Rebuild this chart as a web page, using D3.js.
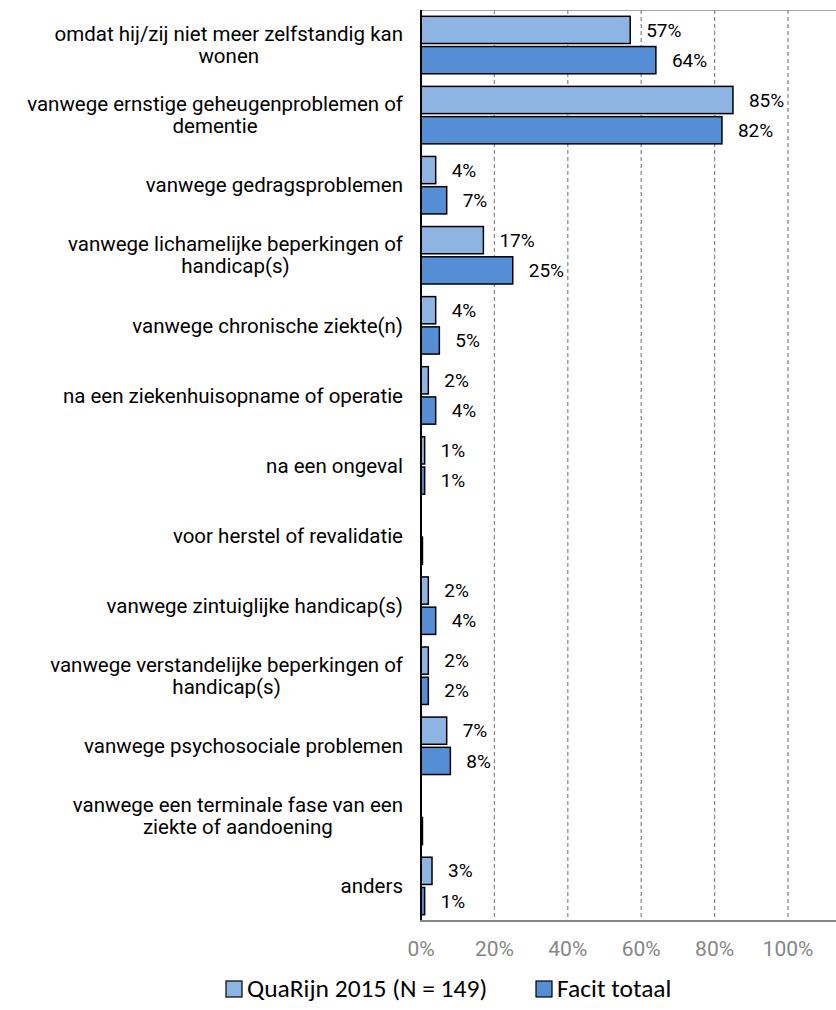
<!DOCTYPE html>
<html>
<head>
<meta charset="utf-8">
<script src="https://cdn.jsdelivr.net/npm/d3@7"></script>
<style>
  body { margin: 0; background: #fff; }
  svg { display: block; }
</style>
</head>
<body>
<div id="chart"></div>
<script>
// categories (\n = line break as in the original)
var categories = [
  'omdat hij/zij niet meer zelfstandig kan\nwonen',
  'vanwege ernstige geheugenproblemen of\ndementie',
  'vanwege gedragsproblemen',
  'vanwege lichamelijke beperkingen of\nhandicap(s)',
  'vanwege chronische ziekte(n)',
  'na een ziekenhuisopname of operatie',
  'na een ongeval',
  'voor herstel of revalidatie',
  'vanwege zintuiglijke handicap(s)',
  'vanwege verstandelijke beperkingen of\nhandicap(s)',
  'vanwege psychosociale problemen',
  'vanwege een terminale fase van een\nziekte of aandoening',
  'anders'
];
var quarijn = [57, 85, 4, 17, 4, 2, 1, 0, 2, 2, 7, 0, 3];
var facit = [64, 82, 7, 25, 5, 4, 1, 0.4, 4, 2, 8, 0.4, 1];
var seriesNames = ['QuaRijn 2015 (N = 149)', 'Facit totaal'];
var seriesColors = ['#8eb4e3', '#558ed5'];
var tickValues = [0, 20, 40, 60, 80, 100];

var canvasWidth = 836;
var canvasHeight = 1010;
var plotLeft = 421;
var plotTop = 10;
var plotBottom = 921;
var mainFont = 'Roboto, Arial, sans-serif';

var svg = d3.select('#chart')
  .append('svg')
  .attr('width', canvasWidth)
  .attr('height', canvasHeight);

var xScale = d3.scaleLinear().domain([0, 120]).range([plotLeft, plotLeft + 1.2 * 367]);
var yScale = d3.scaleBand().domain(d3.range(categories.length))
  .range([plotTop, plotBottom])
  .paddingInner(0.18)
  .paddingOuter(0.09);
var ySub = d3.scaleBand().domain([0, 1]).range([0, yScale.bandwidth()]).paddingInner(0.1);

// top border line
svg.append('line')
  .attr('x1', plotLeft).attr('x2', canvasWidth)
  .attr('y1', plotTop + 0.5).attr('y2', plotTop + 0.5)
  .attr('stroke', '#a6a6a6').attr('stroke-width', 1);

// dashed gridlines
svg.append('g').selectAll('line')
  .data(tickValues.slice(1))
  .enter()
  .append('line')
  .attr('x1', function(d) { return xScale(d); })
  .attr('x2', function(d) { return xScale(d); })
  .attr('y1', plotTop)
  .attr('y2', plotBottom)
  .attr('stroke', '#8c8c8c')
  .attr('stroke-width', 1.3)
  .attr('stroke-dasharray', '4,3');

// bars
var rows = categories.map(function(c, i) {
  return { i: i, values: [quarijn[i], facit[i]] };
});
var groups = svg.append('g').selectAll('g')
  .data(rows)
  .enter()
  .append('g')
  .attr('transform', function(d) { return 'translate(0,' + yScale(d.i) + ')'; });

groups.selectAll('rect')
  .data(function(d) { return d.values.map(function(v, s) { return { v: v, s: s }; }); })
  .enter()
  .append('rect')
  .attr('x', xScale(0))
  .attr('y', function(d) { return ySub(d.s); })
  .attr('width', function(d) { return xScale(d.v) - xScale(0); })
  .attr('height', ySub.bandwidth())
  .attr('fill', function(d) { return seriesColors[d.s]; })
  .attr('stroke', function(d) { return d.v > 0 ? '#000' : 'none'; })
  .attr('stroke-width', 1.5);

// data labels
groups.selectAll('text.val')
  .data(function(d) { return d.values.map(function(v, s) { return { v: v, s: s }; }); })
  .enter()
  .filter(function(d) { return Math.round(d.v) > 0; })
  .append('text')
  .attr('class', 'val')
  .attr('x', function(d) { return xScale(d.v) + 16; })
  .attr('y', function(d) { return ySub(d.s) + ySub.bandwidth() / 2; })
  .attr('dy', '0.35em')
  .style('font-family', mainFont)
  .style('font-size', '19px')
  .attr('fill', '#000')
  .text(function(d) { return Math.round(d.v) + '%'; });

// y axis line
svg.append('line')
  .attr('x1', plotLeft).attr('x2', plotLeft)
  .attr('y1', plotTop).attr('y2', plotBottom)
  .attr('stroke', '#000').attr('stroke-width', 2);

// x axis line
svg.append('line')
  .attr('x1', plotLeft - 1).attr('x2', canvasWidth)
  .attr('y1', plotBottom).attr('y2', plotBottom)
  .attr('stroke', '#868686').attr('stroke-width', 2);

// x tick labels
svg.append('g').selectAll('text')
  .data(tickValues)
  .enter()
  .append('text')
  .attr('x', function(d) { return xScale(d); })
  .attr('y', 949)
  .attr('dy', '0.35em')
  .attr('text-anchor', 'middle')
  .style('font-family', mainFont)
  .style('font-size', '21px')
  .attr('fill', '#868686')
  .text(function(d) { return d + '%'; });

// category labels, lines centred on each other, right edge at 403
var labelRight = 403;
var lineHeight = 22;
categories.forEach(function(c, i) {
  var lines = c.split('\n');
  var cy = yScale(i) + yScale.bandwidth() / 2;
  var t = svg.append('text')
    .style('font-family', mainFont)
    .style('font-size', '20.5px')
    .attr('fill', '#000')
    .attr('text-anchor', 'middle');
  var spans = lines.map(function(l, k) {
    return t.append('tspan')
      .attr('y', cy + (k - (lines.length - 1) / 2) * lineHeight)
      .attr('dy', '0.35em')
      .text(l);
  });
  var maxW = d3.max(spans, function(s) { return s.node().getComputedTextLength(); });
  spans.forEach(function(s) { s.attr('x', labelRight - maxW / 2); });
});

// legend
var legend = svg.append('g').attr('transform', 'translate(0,989)');
var legendX = [226, 536];
var sq = 16;
seriesNames.forEach(function(name, s) {
  var g = legend.append('g').attr('transform', 'translate(' + legendX[s] + ',0)');
  g.append('rect')
    .attr('x', 0).attr('y', -sq / 2)
    .attr('width', sq).attr('height', sq)
    .attr('fill', seriesColors[s])
    .attr('stroke', '#000')
    .attr('stroke-width', 1.2);
  g.append('text')
    .attr('x', sq + 5)
    .attr('y', 0)
    .attr('dy', '0.33em')
    .style('font-family', 'Carlito, Calibri, sans-serif')
    .style('font-size', '25.5px')
    .attr('fill', '#000')
    .text(name);
});
</script>
</body>
</html>
